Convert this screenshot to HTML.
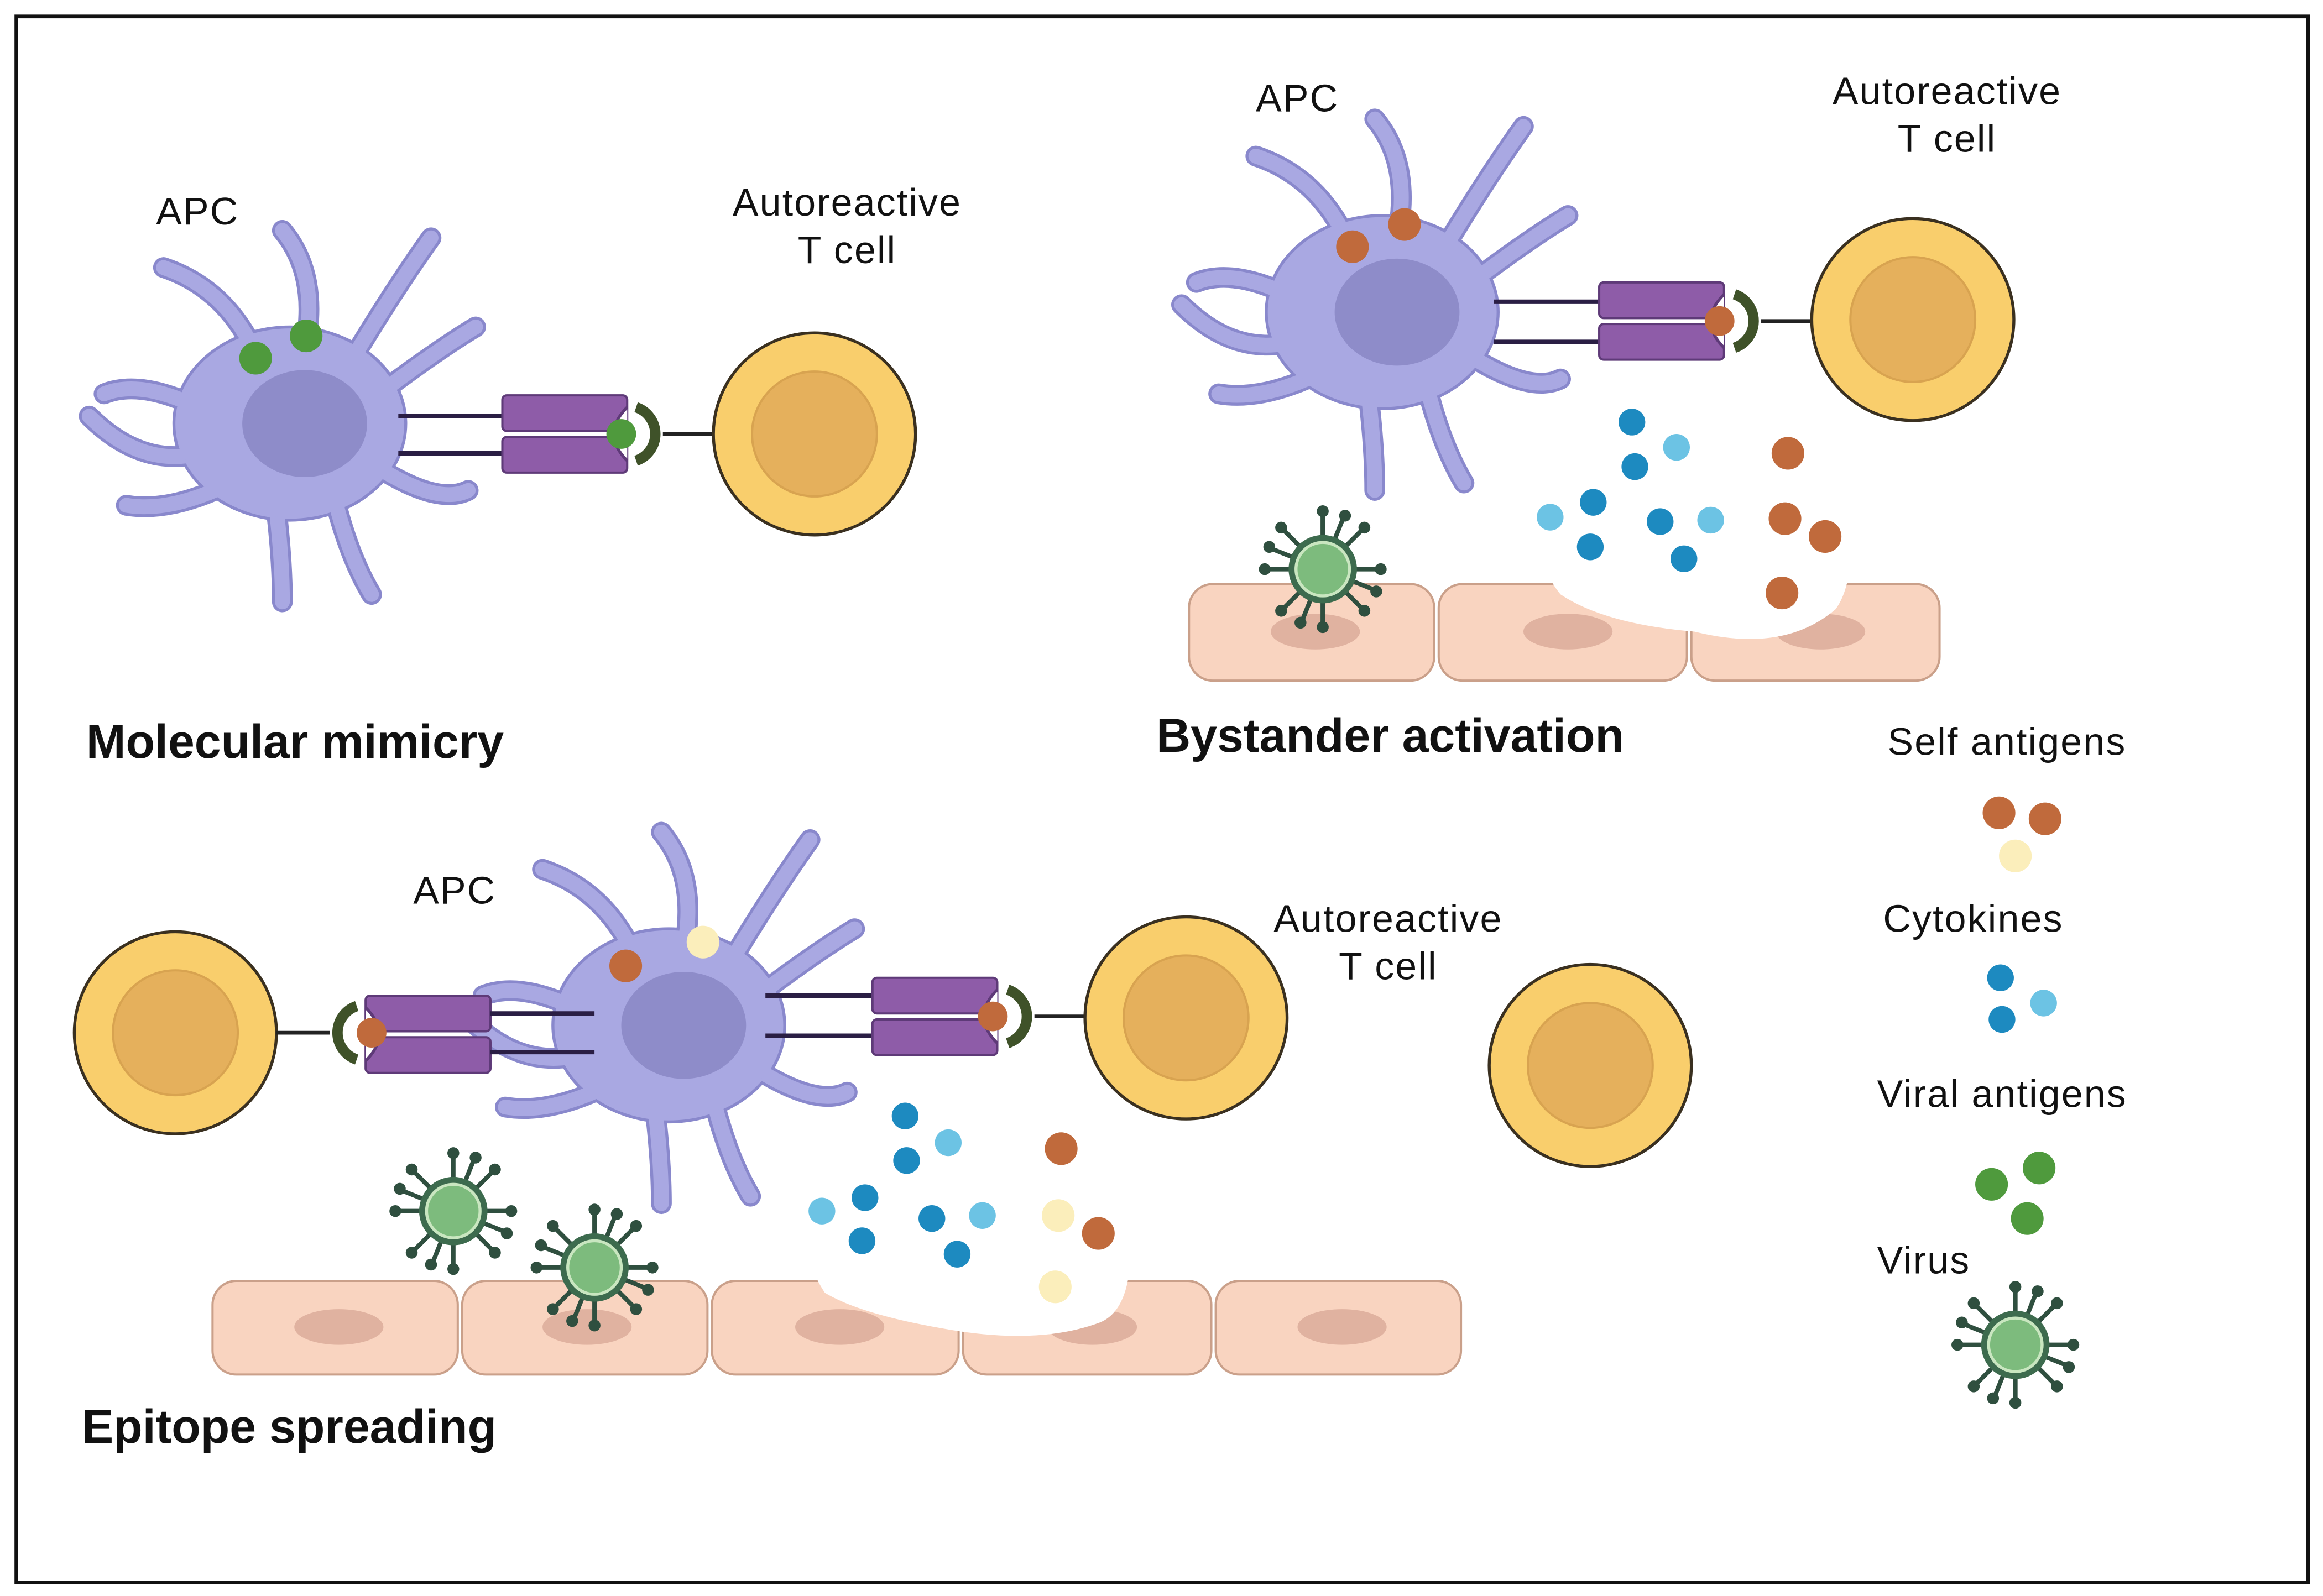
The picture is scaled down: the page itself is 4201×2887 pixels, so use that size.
<!DOCTYPE html>
<html><head><meta charset="utf-8"><style>
html,body{margin:0;padding:0;background:#fff}
svg{display:block}
text{font-family:"Liberation Sans",sans-serif;fill:#111}
.lb{font-size:26px;letter-spacing:0.8px}
.tt{font-size:32px;font-weight:bold}
</style></head><body>
<svg width="4201" height="2887" viewBox="0 0 1563 1074" xmlns="http://www.w3.org/2000/svg">
<defs>
 <g id="tcell">
  <circle r="68" fill="#f9ce6c" stroke="#3a3020" stroke-width="2"/>
  <circle r="42" fill="#e5b05c" stroke="#d8a350" stroke-width="1.5"/>
 </g>
 <g id="virus">
  <g stroke="#2f4f3f" stroke-width="3" stroke-linecap="round">
   <line x1="0" y1="-22" x2="0" y2="-38"/><line x1="0" y1="22" x2="0" y2="38"/>
   <line x1="-22" y1="0" x2="-38" y2="0"/><line x1="22" y1="0" x2="38" y2="0"/>
   <line x1="15" y1="15" x2="27" y2="27"/><line x1="-15" y1="15" x2="-27" y2="27"/>
   <line x1="15" y1="-15" x2="27" y2="-27"/><line x1="-15" y1="-15" x2="-27" y2="-27"/>
   <line x1="8" y1="-20" x2="14" y2="-35"/><line x1="-8" y1="20" x2="-14" y2="35"/>
   <line x1="20" y1="8" x2="35" y2="14"/><line x1="-20" y1="-8" x2="-35" y2="-14"/>
  </g>
  <g fill="#2f4f3f">
   <circle cx="0" cy="-39" r="4"/><circle cx="0" cy="39" r="4"/><circle cx="-39" cy="0" r="4"/><circle cx="39" cy="0" r="4"/>
   <circle cx="28" cy="28" r="4"/><circle cx="-28" cy="28" r="4"/><circle cx="28" cy="-28" r="4"/><circle cx="-28" cy="-28" r="4"/>
   <circle cx="15" cy="-36" r="4"/><circle cx="-15" cy="36" r="4"/><circle cx="36" cy="15" r="4"/><circle cx="-36" cy="-15" r="4"/>
  </g>
  <circle r="23" fill="#3d6b4e"/>
  <circle r="18" fill="#7dbb7d" stroke="#c9e6c0" stroke-width="2"/>
 </g>
 <g id="dend" fill="none" stroke-linecap="round">
   <path d="M-20,-40 Q-40,-90 -85,-105"/>
   <path d="M10,-50 Q20,-100 -5,-130"/>
   <path d="M40,-40 Q70,-90 95,-125"/>
   <path d="M60,-20 Q100,-50 125,-65"/>
   <path d="M-60,-10 Q-100,-30 -125,-20"/>
   <path d="M-60,20 Q-100,30 -135,-5"/>
   <path d="M-40,40 Q-80,60 -110,55"/>
   <path d="M-10,50 Q-5,90 -5,120"/>
   <path d="M30,50 Q40,90 55,115"/>
   <path d="M60,30 Q100,55 120,45"/>
 </g>
 <g id="apc">
  <use href="#dend" stroke="#8988cc" stroke-width="14"/>
  <ellipse rx="78" ry="65" fill="#a9a8e2" stroke="#8988cc" stroke-width="2"/>
  <use href="#dend" stroke="#a9a8e2" stroke-width="10"/>
  <ellipse rx="76" ry="63" fill="#a9a8e2"/>
  <ellipse cx="10" cy="0" rx="42" ry="36" fill="#8e8cc9"/>
 </g>
 <g id="mhcR">
  <rect x="0" y="0" width="84" height="24" rx="3" fill="#8e5ca8" stroke="#5e3a78" stroke-width="1.5"/>
  <rect x="0" y="28" width="84" height="24" rx="3" fill="#8e5ca8" stroke="#5e3a78" stroke-width="1.5"/>
  <path d="M84,8 Q66,26 84,44" fill="#fff" stroke="#5e3a78" stroke-width="2"/>
 </g>
</defs>
<rect x="11" y="11" width="1542" height="1054" fill="#fff" stroke="#111" stroke-width="2.5"/>

<!-- Molecular mimicry -->
<use href="#apc" x="195" y="285"/>
<circle cx="172" cy="241" r="11" fill="#4f9a3d"/><circle cx="206" cy="226" r="11" fill="#4f9a3d"/>
<line x1="268" y1="280" x2="340" y2="280" stroke="#2a1e44" stroke-width="3"/>
<line x1="268" y1="305" x2="340" y2="305" stroke="#2a1e44" stroke-width="3"/>
<use href="#mhcR" x="338" y="266"/>
<circle cx="418" cy="292" r="10" fill="#4f9a3d"/>
<path d="M428,274 A19,19 0 0 1 428,310" fill="none" stroke="#3f5229" stroke-width="7"/>
<line x1="446" y1="292" x2="482" y2="292" stroke="#222" stroke-width="2.5"/>
<use href="#tcell" x="548" y="292"/>
<text x="105" y="151" class="lb">APC</text>
<text x="570" y="145" class="lb" text-anchor="middle">Autoreactive</text>
<text x="570" y="177" class="lb" text-anchor="middle">T cell</text>
<text x="58" y="510" class="tt">Molecular mimicry</text>

<!-- Bystander -->
<rect x="800" y="393" width="165" height="65" rx="16" fill="#f9d4c0" stroke="#caa08a" stroke-width="1.5"/>
<rect x="968" y="393" width="167" height="65" rx="16" fill="#f9d4c0" stroke="#caa08a" stroke-width="1.5"/>
<rect x="1138" y="393" width="167" height="65" rx="16" fill="#f9d4c0" stroke="#caa08a" stroke-width="1.5"/>
<ellipse cx="885" cy="425" rx="30" ry="12" fill="#e0b2a0"/>
<ellipse cx="1055" cy="425" rx="30" ry="12" fill="#e0b2a0"/>
<ellipse cx="1225" cy="425" rx="30" ry="12" fill="#e0b2a0"/>
<path d="M1035,300 Q1080,270 1140,285 Q1220,290 1245,330 Q1250,390 1235,410 Q1200,440 1140,425 Q1080,420 1050,400 Q1025,370 1035,300Z" fill="#fff"/>
<use href="#apc" x="930" y="210"/>
<circle cx="910" cy="166" r="11" fill="#c06a3c"/><circle cx="945" cy="151" r="11" fill="#c06a3c"/>
<line x1="1005" y1="203" x2="1078" y2="203" stroke="#2a1e44" stroke-width="3"/>
<line x1="1005" y1="230" x2="1078" y2="230" stroke="#2a1e44" stroke-width="3"/>
<use href="#mhcR" x="1076" y="190"/>
<circle cx="1157" cy="216" r="10" fill="#c06a3c"/>
<path d="M1167,198 A19,19 0 0 1 1167,234" fill="none" stroke="#3f5229" stroke-width="7"/>
<line x1="1185" y1="216" x2="1220" y2="216" stroke="#222" stroke-width="2.5"/>
<use href="#tcell" x="1287" y="215"/>
<use href="#virus" x="890" y="383"/>
<g fill="#1d8ac0"><circle cx="1098" cy="284" r="9"/><circle cx="1100" cy="314" r="9"/><circle cx="1072" cy="338" r="9"/><circle cx="1117" cy="351" r="9"/><circle cx="1070" cy="368" r="9"/><circle cx="1133" cy="376" r="9"/></g>
<g fill="#6cc3e4"><circle cx="1128" cy="301" r="9"/><circle cx="1043" cy="348" r="9"/><circle cx="1151" cy="350" r="9"/></g>
<g fill="#c06a3c"><circle cx="1203" cy="305" r="11"/><circle cx="1201" cy="349" r="11"/><circle cx="1228" cy="361" r="11"/><circle cx="1199" cy="399" r="11"/></g>
<text x="845" y="75" class="lb">APC</text>
<text x="1310" y="70" class="lb" text-anchor="middle">Autoreactive</text>
<text x="1310" y="102" class="lb" text-anchor="middle">T cell</text>
<text x="778" y="506" class="tt">Bystander activation</text>

<!-- Legend -->
<text x="1270" y="508" class="lb">Self antigens</text>
<circle cx="1345" cy="547" r="11" fill="#c06a3c"/><circle cx="1376" cy="551" r="11" fill="#c06a3c"/><circle cx="1356" cy="576" r="11" fill="#fbeebb"/>
<text x="1267" y="627" class="lb">Cytokines</text>
<circle cx="1346" cy="658" r="9" fill="#1d8ac0"/><circle cx="1375" cy="675" r="9" fill="#6cc3e4"/><circle cx="1347" cy="686" r="9" fill="#1d8ac0"/>
<text x="1263" y="745" class="lb">Viral antigens</text>
<circle cx="1340" cy="797" r="11" fill="#4f9a3d"/><circle cx="1372" cy="786" r="11" fill="#4f9a3d"/><circle cx="1364" cy="820" r="11" fill="#4f9a3d"/>
<text x="1263" y="857" class="lb">Virus</text>
<use href="#virus" x="1356" y="905"/>

<!-- Epitope spreading -->
<g fill="#f9d4c0" stroke="#caa08a" stroke-width="1.5">
<rect x="143" y="862" width="165" height="63" rx="16"/><rect x="311" y="862" width="165" height="63" rx="16"/>
<rect x="479" y="862" width="166" height="63" rx="16"/><rect x="648" y="862" width="167" height="63" rx="16"/>
<rect x="818" y="862" width="165" height="63" rx="16"/></g>
<g fill="#e0b2a0"><ellipse cx="228" cy="893" rx="30" ry="12"/><ellipse cx="395" cy="893" rx="30" ry="12"/><ellipse cx="565" cy="893" rx="30" ry="12"/><ellipse cx="735" cy="893" rx="30" ry="12"/><ellipse cx="903" cy="893" rx="30" ry="12"/></g>
<path d="M545,800 Q590,760 660,770 Q740,770 760,820 Q765,880 740,890 Q700,905 640,895 Q580,885 555,870 Q535,840 545,800Z" fill="#fff"/>
<use href="#apc" x="450" y="690"/>
<circle cx="421" cy="650" r="11" fill="#c06a3c"/><circle cx="473" cy="634" r="11" fill="#fbeebb"/>
<use href="#tcell" x="118" y="695"/>
<line x1="186" y1="695" x2="222" y2="695" stroke="#222" stroke-width="2.5"/>
<g transform="translate(330,670) scale(-1,1)"><use href="#mhcR"/></g>
<circle cx="250" cy="695" r="10" fill="#c06a3c"/>
<path d="M240,677 A19,19 0 0 0 240,713" fill="none" stroke="#3f5229" stroke-width="7"/>
<line x1="330" y1="682" x2="400" y2="682" stroke="#2a1e44" stroke-width="3"/>
<line x1="330" y1="708" x2="400" y2="708" stroke="#2a1e44" stroke-width="3"/>
<line x1="515" y1="670" x2="589" y2="670" stroke="#2a1e44" stroke-width="3"/>
<line x1="515" y1="697" x2="589" y2="697" stroke="#2a1e44" stroke-width="3"/>
<use href="#mhcR" x="587" y="658"/>
<circle cx="668" cy="684" r="10" fill="#c06a3c"/>
<path d="M678,666 A19,19 0 0 1 678,702" fill="none" stroke="#3f5229" stroke-width="7"/>
<line x1="696" y1="684" x2="732" y2="684" stroke="#222" stroke-width="2.5"/>
<use href="#tcell" x="798" y="685"/>
<use href="#tcell" x="1070" y="717"/>
<use href="#virus" x="305" y="815"/>
<use href="#virus" x="400" y="853"/>
<g fill="#1d8ac0"><circle cx="609" cy="751" r="9"/><circle cx="610" cy="781" r="9"/><circle cx="582" cy="806" r="9"/><circle cx="627" cy="820" r="9"/><circle cx="580" cy="835" r="9"/><circle cx="644" cy="844" r="9"/></g>
<g fill="#6cc3e4"><circle cx="638" cy="769" r="9"/><circle cx="553" cy="815" r="9"/><circle cx="661" cy="818" r="9"/></g>
<g fill="#c06a3c"><circle cx="714" cy="773" r="11"/><circle cx="739" cy="830" r="11"/></g>
<g fill="#fbeebb"><circle cx="712" cy="818" r="11"/><circle cx="710" cy="866" r="11"/></g>
<text x="278" y="608" class="lb">APC</text>
<text x="934" y="627" class="lb" text-anchor="middle">Autoreactive</text>
<text x="934" y="659" class="lb" text-anchor="middle">T cell</text>
<text x="55" y="971" class="tt">Epitope spreading</text>
</svg>
</body></html>
